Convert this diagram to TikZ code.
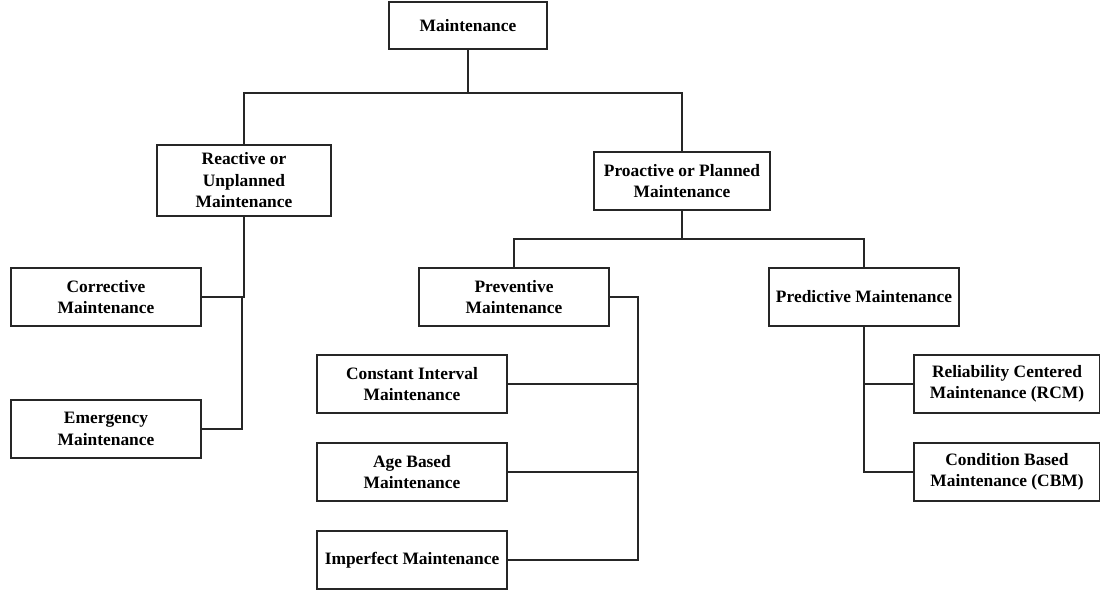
\documentclass[tikz,border=0pt]{standalone}
\usepackage{fontspec}
\setmainfont{Liberation Serif}
\begin{document}
\begin{tikzpicture}[x=1pt,y=1pt,
  box/.style={draw=black!85, line width=1.3pt, rectangle, inner sep=0pt, align=center,
    font=\bfseries\fontsize{17.4}{21.5}\selectfont, fill=white},
  conn/.style={draw=black!85, line width=1.3pt}]
\useasboundingbox (0,0) rectangle (1100,-592);
\node[box, minimum width=158pt, minimum height=47pt] (m) at (468,-25.5) {Maintenance};
\node[box, minimum width=174pt, minimum height=71pt] (r) at (244,-180.5) {Reactive or\\Unplanned\\Maintenance};
\node[box, minimum width=176pt, minimum height=58pt] (p) at (682,-181) {Proactive or Planned\\Maintenance};
\node[box, minimum width=190pt, minimum height=58pt] (c) at (106,-297) {Corrective\\Maintenance};
\node[box, minimum width=190pt, minimum height=58pt] (e) at (106,-429) {Emergency\\Maintenance};
\node[box, minimum width=190pt, minimum height=58pt] (pv) at (514,-297) {Preventive\\Maintenance};
\node[box, minimum width=190pt, minimum height=58pt] (pd) at (864,-297) {Predictive Maintenance};
\node[box, minimum width=190pt, minimum height=58pt] (ci) at (412,-384) {Constant Interval\\Maintenance};
\node[box, minimum width=190pt, minimum height=58pt] (ab) at (412,-472) {Age Based\\Maintenance};
\node[box, minimum width=190pt, minimum height=58pt] (im) at (412,-560) {Imperfect Maintenance};
\node[box, minimum width=186pt, minimum height=58pt] (rcm) at (1007,-384) {Reliability Centered\\Maintenance (RCM)};
\node[box, minimum width=186pt, minimum height=58pt] (cbm) at (1007,-472) {Condition Based\\Maintenance (CBM)};
\coordinate (mj) at (468,-93);
\coordinate (pj) at (682,-239);
\coordinate (rj) at (242,-297);
\coordinate (pvj) at (638,-297);
\draw[conn] (m.south) -- (mj) -| (r.north);
\draw[conn] (mj) -| (p.north);
\draw[conn] (r.south) |- (c.east);
\draw[conn] (rj) |- (e.east);
\draw[conn] (p.south) -- (pj) -| (pv.north);
\draw[conn] (pj) -| (pd.north);
\draw[conn] (pv.east) -- (pvj) |- (ci.east);
\draw[conn] (pvj) |- (ab.east);
\draw[conn] (pvj) |- (im.east);
\draw[conn] (pd.south) |- (rcm.west);
\draw[conn] (pd.south) |- (cbm.west);
\end{tikzpicture}
\end{document}
